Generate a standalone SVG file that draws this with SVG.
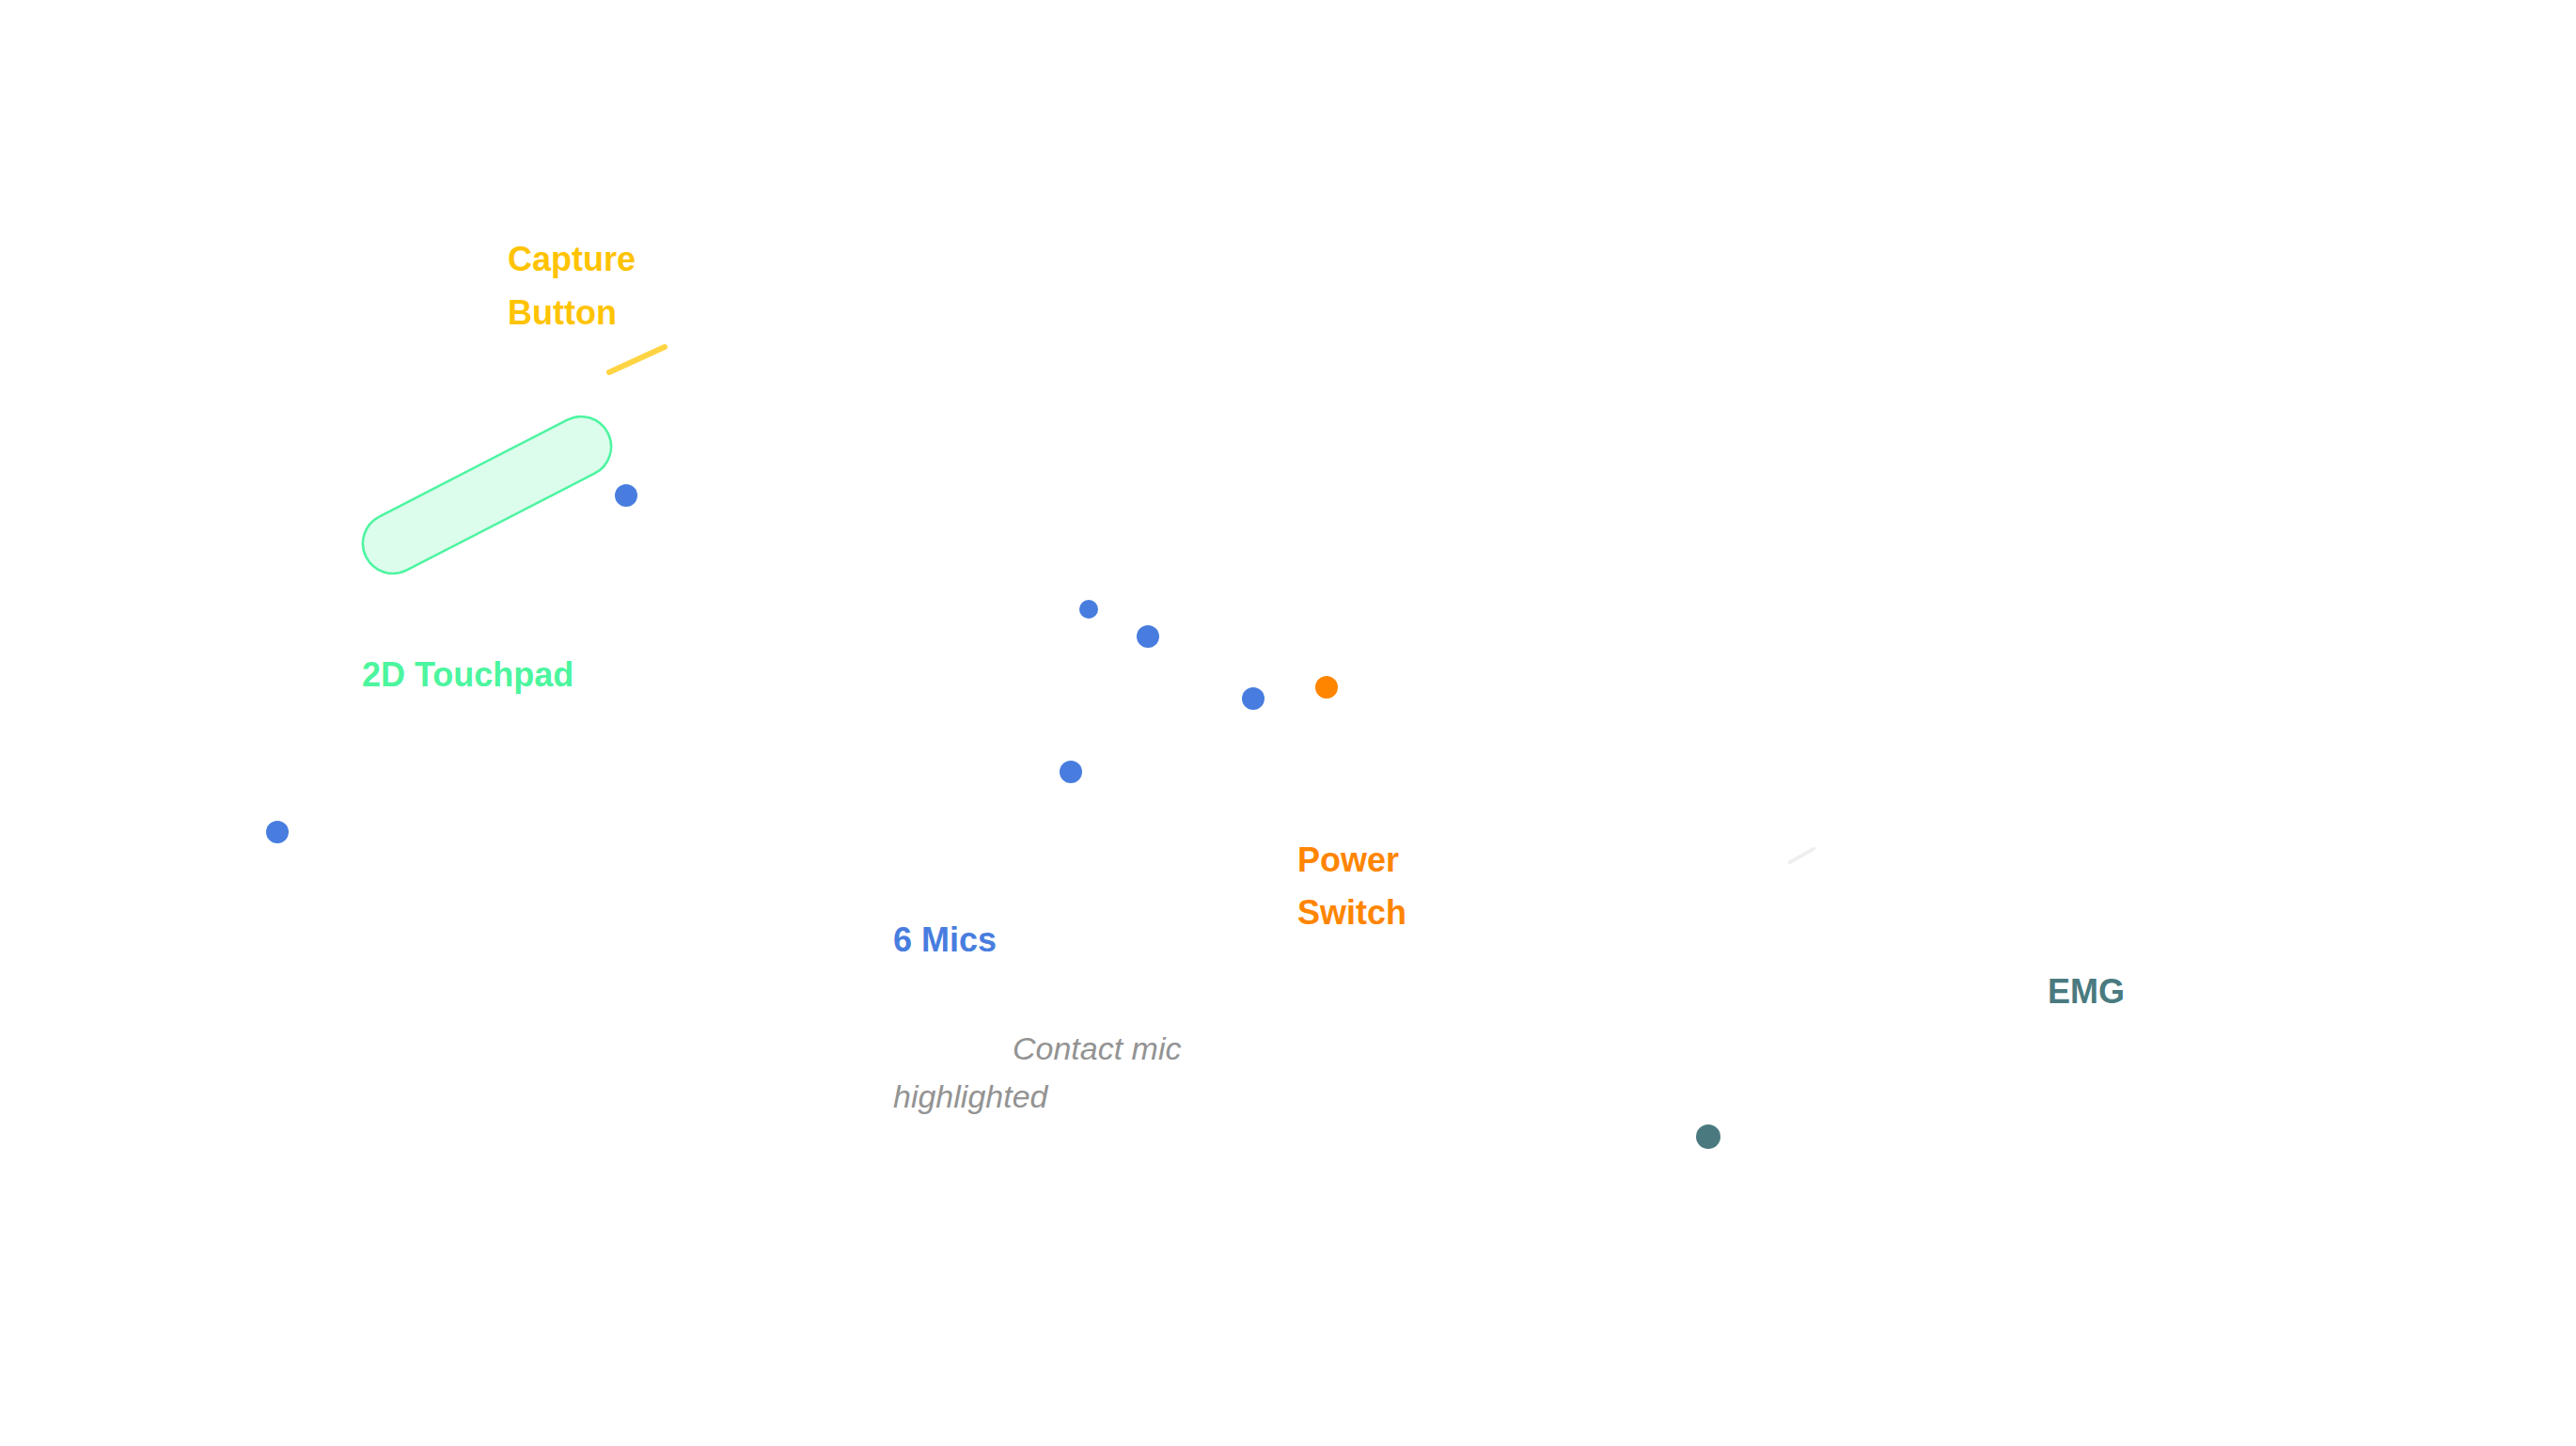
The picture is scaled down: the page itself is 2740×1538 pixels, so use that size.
<svg xmlns="http://www.w3.org/2000/svg" width="2740" height="1538" viewBox="0 0 2740 1538">
<style>
.lbl{font-family:"Liberation Sans",Arial,Helvetica,sans-serif;font-weight:bold;font-size:36px}
.note{font-family:"Liberation Sans",Arial,Helvetica,sans-serif;font-style:italic;font-size:34px;fill:#939393}
.mic{fill:#487DDF}
</style>
<rect width="2740" height="1538" fill="#ffffff"/>
<g id="capture-button">
<line x1="648" y1="396" x2="707" y2="369" stroke="#FFCC22" stroke-opacity="0.85" stroke-width="6" stroke-linecap="round"/>
<text class="lbl" x="540" y="288" fill="#FFC300">Capture</text>
<text class="lbl" x="540" y="345" fill="#FFC300">Button</text>
</g>
<g id="touchpad">
<rect x="373.5" y="494.5" width="289" height="64" rx="32" ry="32" transform="rotate(-27.25 518 526.5)" fill="#DCFCEC" stroke="#4DF5A0" stroke-width="2.5"/>
<text class="lbl" x="385" y="730" fill="#4CF59E">2D Touchpad</text>
</g>
<g id="mics">
<circle class="mic" cx="666" cy="527" r="12"/>
<circle class="mic" cx="295" cy="885" r="12"/>
<circle class="mic" cx="1158" cy="648" r="10"/>
<circle class="mic" cx="1221" cy="677" r="12"/>
<circle class="mic" cx="1333" cy="743" r="12"/>
<circle class="mic" cx="1139" cy="821" r="12"/>
<text class="lbl" x="950" y="1012" fill="#487DDF">6 Mics</text>
<text class="note" x="1077" y="1127">Contact mic</text>
<text class="note" x="950" y="1178">highlighted</text>
</g>
<g id="power-switch">
<circle cx="1411" cy="731" r="12" fill="#FF8500"/>
<text class="lbl" x="1380" y="927" fill="#FF8500">Power</text>
<text class="lbl" x="1380" y="983" fill="#FF8500">Switch</text>
</g>
<g id="faint-mark">
<line x1="1904" y1="917" x2="1929" y2="903" stroke="#EFEFEF" stroke-width="4" stroke-linecap="round"/>
</g>
<g id="emg">
<circle cx="1817" cy="1209" r="13" fill="#4A7A80"/>
<text class="lbl" x="2178" y="1067" fill="#4A7A80">EMG</text>
</g>
<g id="connectors"></g>
</svg>
